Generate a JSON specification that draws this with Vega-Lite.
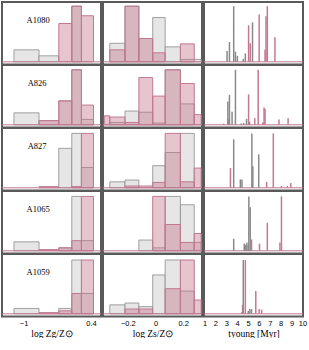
{
  "$schema": "https://vega.github.io/schema/vega-lite/v6.json",
  "padding": {"left": 0, "top": 1, "right": 4, "bottom": 0},
  "spacing": -3,
  "config": {
    "view": {"stroke": "#5a5a5a", "strokeWidth": 2},
    "axis": {"labelFont": "Liberation Sans", "labelFontSize": 7.5, "labelColor": "#000", "titleFont": "Liberation Serif", "titleFontSize": 9.5, "titleFontWeight": "normal", "titleColor": "#000", "labelPadding": 2, "titlePadding": 2, "ticks": false, "domain": false, "grid": false, "labelFlush": false, "labelOverlap": false},
    "facet": {"spacing": 0}
  },
  "datasets": {
    "zg": [
      {"c": "A1080", "s": "L", "x": -0.7, "h": 0.7},
      {"c": "A1080", "s": "G", "x": -1.2, "x2": -0.68, "h": 0.2},
      {"c": "A1080", "s": "G", "x": -0.68, "x2": -0.27, "h": 0.1},
      {"c": "A1080", "s": "G", "x": 0, "x2": 0.2, "h": 0.93},
      {"c": "A1080", "s": "P", "x": -0.27, "x2": 0, "h": 0.64},
      {"c": "A1080", "s": "P", "x": 0, "x2": 0.2, "h": 0.93},
      {"c": "A1080", "s": "P", "x": 0.2, "x2": 0.45, "h": 0.77},
      {"c": "A826", "s": "L", "x": -0.72, "h": 0.7},
      {"c": "A826", "s": "G", "x": -1.2, "x2": -0.68, "h": 0.2},
      {"c": "A826", "s": "G", "x": -0.68, "x2": -0.27, "h": 0.07},
      {"c": "A826", "s": "G", "x": -0.27, "x2": 0, "h": 0.4},
      {"c": "A826", "s": "G", "x": 0, "x2": 0.2, "h": 0.92},
      {"c": "A826", "s": "G", "x": 0.2, "x2": 0.45, "h": 0.09},
      {"c": "A826", "s": "P", "x": -0.68, "x2": -0.27, "h": 0.07},
      {"c": "A826", "s": "P", "x": -0.27, "x2": 0, "h": 0.4},
      {"c": "A826", "s": "P", "x": 0, "x2": 0.2, "h": 0.92},
      {"c": "A826", "s": "P", "x": 0.2, "x2": 0.45, "h": 0.33},
      {"c": "A827", "s": "L", "x": -0.72, "h": 0.7},
      {"c": "A827", "s": "G", "x": -0.27, "x2": 0, "h": 0.66},
      {"c": "A827", "s": "G", "x": 0, "x2": 0.2, "h": 0.91},
      {"c": "A827", "s": "G", "x": 0.2, "x2": 0.45, "h": 0.34},
      {"c": "A827", "s": "P", "x": -0.68, "x2": -0.27, "h": 0.02},
      {"c": "A827", "s": "P", "x": 0, "x2": 0.2, "h": 0.02},
      {"c": "A827", "s": "P", "x": 0.2, "x2": 0.45, "h": 0.91},
      {"c": "A1065", "s": "L", "x": -0.7, "h": 0.7},
      {"c": "A1065", "s": "G", "x": -1.2, "x2": -0.68, "h": 0.15},
      {"c": "A1065", "s": "G", "x": -0.27, "x2": 0, "h": 0.05},
      {"c": "A1065", "s": "G", "x": 0, "x2": 0.2, "h": 0.91},
      {"c": "A1065", "s": "G", "x": 0.2, "x2": 0.45, "h": 0.17},
      {"c": "A1065", "s": "P", "x": -0.68, "x2": -0.27, "h": 0.02},
      {"c": "A1065", "s": "P", "x": -0.27, "x2": 0, "h": 0.05},
      {"c": "A1065", "s": "P", "x": 0, "x2": 0.2, "h": 0.17},
      {"c": "A1065", "s": "P", "x": 0.2, "x2": 0.45, "h": 0.91},
      {"c": "A1059", "s": "L", "x": -0.7, "h": 0.7},
      {"c": "A1059", "s": "G", "x": -1.2, "x2": -0.68, "h": 0.09},
      {"c": "A1059", "s": "G", "x": -0.27, "x2": 0, "h": 0.09},
      {"c": "A1059", "s": "G", "x": 0, "x2": 0.2, "h": 0.9},
      {"c": "A1059", "s": "G", "x": 0.2, "x2": 0.45, "h": 0.34},
      {"c": "A1059", "s": "P", "x": -0.68, "x2": -0.27, "h": 0.02},
      {"c": "A1059", "s": "P", "x": -0.27, "x2": 0, "h": 0.05},
      {"c": "A1059", "s": "P", "x": 0, "x2": 0.2, "h": 0.34},
      {"c": "A1059", "s": "P", "x": 0.2, "x2": 0.45, "h": 0.9}
    ],
    "zs": [
      {"c": "A1080", "s": "L"},
      {"c": "A1080", "s": "G", "x": -0.33, "x2": -0.22, "h": 0.31},
      {"c": "A1080", "s": "G", "x": -0.22, "x2": -0.12, "h": 0.93},
      {"c": "A1080", "s": "G", "x": -0.12, "x2": -0.02, "h": 0.39},
      {"c": "A1080", "s": "G", "x": -0.02, "x2": 0.07, "h": 0.74},
      {"c": "A1080", "s": "G", "x": 0.07, "x2": 0.18, "h": 0.25},
      {"c": "A1080", "s": "G", "x": 0.18, "x2": 0.33, "h": 0.04},
      {"c": "A1080", "s": "P", "x": -0.33, "x2": -0.22, "h": 0.2},
      {"c": "A1080", "s": "P", "x": -0.22, "x2": -0.12, "h": 0.93},
      {"c": "A1080", "s": "P", "x": -0.12, "x2": -0.02, "h": 0.39},
      {"c": "A1080", "s": "P", "x": -0.02, "x2": 0.07, "h": 0.15},
      {"c": "A1080", "s": "P", "x": 0.18, "x2": 0.28, "h": 0.3},
      {"c": "A826", "s": "L"},
      {"c": "A826", "s": "G", "x": -0.33, "x2": -0.22, "h": 0.04},
      {"c": "A826", "s": "G", "x": -0.22, "x2": -0.12, "h": 0.23},
      {"c": "A826", "s": "G", "x": -0.12, "x2": -0.02, "h": 0.21},
      {"c": "A826", "s": "G", "x": -0.02, "x2": 0.07, "h": 0.03},
      {"c": "A826", "s": "G", "x": 0.07, "x2": 0.18, "h": 0.92},
      {"c": "A826", "s": "G", "x": 0.18, "x2": 0.28, "h": 0.35},
      {"c": "A826", "s": "P", "x": -0.37, "x2": -0.33, "h": 0.15},
      {"c": "A826", "s": "P", "x": -0.33, "x2": -0.22, "h": 0.13},
      {"c": "A826", "s": "P", "x": -0.22, "x2": -0.12, "h": 0.04},
      {"c": "A826", "s": "P", "x": -0.12, "x2": -0.02, "h": 0.79},
      {"c": "A826", "s": "P", "x": -0.02, "x2": 0.07, "h": 0.48},
      {"c": "A826", "s": "P", "x": 0.07, "x2": 0.18, "h": 0.92},
      {"c": "A826", "s": "P", "x": 0.18, "x2": 0.28, "h": 0.69},
      {"c": "A826", "s": "P", "x": 0.28, "x2": 0.33, "h": 0.17},
      {"c": "A827", "s": "L"},
      {"c": "A827", "s": "G", "x": -0.33, "x2": -0.22, "h": 0.1},
      {"c": "A827", "s": "G", "x": -0.22, "x2": -0.12, "h": 0.13},
      {"c": "A827", "s": "G", "x": -0.02, "x2": 0.07, "h": 0.37},
      {"c": "A827", "s": "G", "x": 0.07, "x2": 0.18, "h": 0.59},
      {"c": "A827", "s": "G", "x": 0.18, "x2": 0.28, "h": 0.91},
      {"c": "A827", "s": "P", "x": -0.22, "x2": -0.12, "h": 0.03},
      {"c": "A827", "s": "P", "x": -0.12, "x2": -0.02, "h": 0.03},
      {"c": "A827", "s": "P", "x": -0.02, "x2": 0.07, "h": 0.09},
      {"c": "A827", "s": "P", "x": 0.07, "x2": 0.18, "h": 0.91},
      {"c": "A827", "s": "P", "x": 0.18, "x2": 0.28, "h": 0.1},
      {"c": "A827", "s": "P", "x": 0.28, "x2": 0.33, "h": 0.33},
      {"c": "A1065", "s": "L"},
      {"c": "A1065", "s": "G", "x": -0.12, "x2": -0.02, "h": 0.18},
      {"c": "A1065", "s": "G", "x": -0.02, "x2": 0.07, "h": 0.05},
      {"c": "A1065", "s": "G", "x": 0.07, "x2": 0.18, "h": 0.91},
      {"c": "A1065", "s": "G", "x": 0.18, "x2": 0.28, "h": 0.77},
      {"c": "A1065", "s": "G", "x": 0.28, "x2": 0.33, "h": 0.14},
      {"c": "A1065", "s": "P", "x": -0.02, "x2": 0.07, "h": 0.91},
      {"c": "A1065", "s": "P", "x": 0.07, "x2": 0.18, "h": 0.44},
      {"c": "A1065", "s": "P", "x": 0.18, "x2": 0.28, "h": 0.14},
      {"c": "A1065", "s": "P", "x": 0.28, "x2": 0.33, "h": 0.29},
      {"c": "A1059", "s": "L"},
      {"c": "A1059", "s": "G", "x": -0.33, "x2": -0.22, "h": 0.15},
      {"c": "A1059", "s": "G", "x": -0.22, "x2": -0.12, "h": 0.18},
      {"c": "A1059", "s": "G", "x": -0.12, "x2": -0.02, "h": 0.12},
      {"c": "A1059", "s": "G", "x": -0.02, "x2": 0.07, "h": 0.65},
      {"c": "A1059", "s": "G", "x": 0.07, "x2": 0.18, "h": 0.9},
      {"c": "A1059", "s": "G", "x": 0.18, "x2": 0.28, "h": 0.38},
      {"c": "A1059", "s": "P", "x": -0.22, "x2": -0.12, "h": 0.08},
      {"c": "A1059", "s": "P", "x": -0.12, "x2": -0.02, "h": 0.08},
      {"c": "A1059", "s": "P", "x": 0.07, "x2": 0.18, "h": 0.42},
      {"c": "A1059", "s": "P", "x": 0.18, "x2": 0.28, "h": 0.9},
      {"c": "A1059", "s": "P", "x": 0.28, "x2": 0.33, "h": 0.23}
    ],
    "ty": [
      {"c": "A1080", "s": "L"},
      {"c": "A1080", "s": "G", "t": 3.07, "h": 0.18},
      {"c": "A1080", "s": "G", "t": 3.29, "h": 0.33},
      {"c": "A1080", "s": "G", "t": 3.68, "h": 0.93},
      {"c": "A1080", "s": "G", "t": 3.84, "h": 0.17},
      {"c": "A1080", "s": "G", "t": 4.02, "h": 0.1},
      {"c": "A1080", "s": "G", "t": 4.56, "h": 0.05},
      {"c": "A1080", "s": "G", "t": 4.75, "h": 0.14},
      {"c": "A1080", "s": "G", "t": 5.41, "h": 0.66},
      {"c": "A1080", "s": "P", "t": 5.05, "h": 0.61},
      {"c": "A1080", "s": "P", "t": 5.2, "h": 0.31},
      {"c": "A1080", "s": "P", "t": 6.02, "h": 0.79},
      {"c": "A1080", "s": "P", "t": 6.56, "h": 0.2},
      {"c": "A1080", "s": "P", "t": 6.65, "h": 0.76},
      {"c": "A1080", "s": "P", "t": 6.77, "h": 0.93},
      {"c": "A1080", "s": "P", "t": 7.47, "h": 0.41},
      {"c": "A826", "s": "L"},
      {"c": "A826", "s": "P", "t": 2.75, "h": 0.02},
      {"c": "A826", "s": "P", "t": 3.2, "h": 0.09},
      {"c": "A826", "s": "G", "t": 3.14, "h": 0.39},
      {"c": "A826", "s": "G", "t": 3.29, "h": 0.5},
      {"c": "A826", "s": "G", "t": 3.53, "h": 0.22},
      {"c": "A826", "s": "G", "t": 3.84, "h": 0.92},
      {"c": "A826", "s": "G", "t": 4.35, "h": 0.02},
      {"c": "A826", "s": "G", "t": 4.59, "h": 0.03},
      {"c": "A826", "s": "G", "t": 4.86, "h": 0.1},
      {"c": "A826", "s": "P", "t": 5.05, "h": 0.51},
      {"c": "A826", "s": "G", "t": 5.14, "h": 0.05},
      {"c": "A826", "s": "P", "t": 5.62, "h": 0.11},
      {"c": "A826", "s": "P", "t": 5.93, "h": 0.92},
      {"c": "A826", "s": "P", "t": 6.35, "h": 0.04},
      {"c": "A826", "s": "P", "t": 6.47, "h": 0.29},
      {"c": "A826", "s": "P", "t": 6.56, "h": 0.27},
      {"c": "A826", "s": "P", "t": 7.84, "h": 0.09},
      {"c": "A826", "s": "P", "t": 8.68, "h": 0.11},
      {"c": "A827", "s": "L"},
      {"c": "A827", "s": "P", "t": 3.38, "h": 0.33},
      {"c": "A827", "s": "G", "t": 3.68, "h": 0.81},
      {"c": "A827", "s": "G", "t": 4.29, "h": 0.14},
      {"c": "A827", "s": "G", "t": 4.44, "h": 0.14},
      {"c": "A827", "s": "G", "t": 5.35, "h": 0.91},
      {"c": "A827", "s": "G", "t": 5.44, "h": 0.36},
      {"c": "A827", "s": "G", "t": 5.98, "h": 0.56},
      {"c": "A827", "s": "P", "t": 6.71, "h": 0.1},
      {"c": "A827", "s": "P", "t": 7.32, "h": 0.91},
      {"c": "A827", "s": "P", "t": 8.07, "h": 0.03},
      {"c": "A827", "s": "P", "t": 8.62, "h": 0.03},
      {"c": "A827", "s": "P", "t": 8.93, "h": 0.08},
      {"c": "A1065", "s": "L"},
      {"c": "A1065", "s": "G", "t": 3.68, "h": 0.2},
      {"c": "A1065", "s": "G", "t": 4.65, "h": 0.12},
      {"c": "A1065", "s": "G", "t": 4.77, "h": 0.1},
      {"c": "A1065", "s": "G", "t": 4.89, "h": 0.14},
      {"c": "A1065", "s": "G", "t": 5.02, "h": 0.1},
      {"c": "A1065", "s": "G", "t": 5.07, "h": 0.91},
      {"c": "A1065", "s": "G", "t": 5.2, "h": 0.73},
      {"c": "A1065", "s": "P", "t": 5.32, "h": 0.19},
      {"c": "A1065", "s": "P", "t": 6.05, "h": 0.12},
      {"c": "A1065", "s": "P", "t": 6.77, "h": 0.47},
      {"c": "A1065", "s": "P", "t": 7.93, "h": 0.14},
      {"c": "A1065", "s": "P", "t": 8.07, "h": 0.91},
      {"c": "A1059", "s": "L"},
      {"c": "A1059", "s": "P", "t": 4.44, "h": 0.03},
      {"c": "A1059", "s": "P", "t": 4.5, "h": 0.15},
      {"c": "A1059", "s": "G", "t": 4.56, "h": 0.9},
      {"c": "A1059", "s": "P", "t": 4.75, "h": 0.9},
      {"c": "A1059", "s": "G", "t": 5.02, "h": 0.05},
      {"c": "A1059", "s": "G", "t": 5.16, "h": 0.08},
      {"c": "A1059", "s": "G", "t": 5.32, "h": 0.08},
      {"c": "A1059", "s": "P", "t": 5.71, "h": 0.38},
      {"c": "A1059", "s": "P", "t": 6.02, "h": 0.08},
      {"c": "A1059", "s": "P", "t": 6.25, "h": 0.07}
    ]
  },
  "hconcat": [
    {
      "data": {"name": "zg"},
      "bounds": "flush",
      "facet": {"row": {"field": "c", "type": "nominal", "sort": ["A1080", "A826", "A827", "A1065", "A1059"], "header": {"title": null, "labels": false}}},
      "spacing": {"row": 0},
      "spec": {
        "width": 99,
        "height": 62.5,
        "layer": [
          {
            "transform": [{"filter": "datum.s === 'G'"}],
            "mark": {"type": "rect", "fill": "#e6e6e6", "stroke": "#8c8c8c", "strokeWidth": 0.8},
            "encoding": {
              "x": {"field": "x", "type": "quantitative", "scale": {"domain": [-1.448, 0.606], "nice": false, "zero": false}, "axis": {"values": [-1, -0.5, 0, 0.4], "format": "~r", "title": "log Zg/Z⊙"}},
              "x2": {"field": "x2"},
              "y": {"field": "h", "type": "quantitative", "scale": {"domain": [-0.045, 1], "nice": false, "zero": false}, "axis": null},
              "y2": {"datum": 0}
            }
          },
          {
            "transform": [{"filter": "datum.s === 'P'"}],
            "mark": {"type": "rect", "fill": "#c46e88", "fillOpacity": 0.4, "stroke": "#c07890", "strokeWidth": 1},
            "encoding": {
              "x": {"field": "x", "type": "quantitative"},
              "x2": {"field": "x2"},
              "y": {"field": "h", "type": "quantitative"},
              "y2": {"datum": 0}
            }
          },
          {
            "transform": [{"filter": "datum.s === 'L'"}],
            "mark": {"type": "rule", "color": "#c07890", "strokeWidth": 1},
            "encoding": {"y": {"datum": 0}}
          },
          {
            "transform": [{"filter": "datum.s === 'L'"}],
            "mark": {"type": "text", "font": "Liberation Serif", "fontSize": 8.5, "color": "#000"},
            "encoding": {
              "x": {"field": "x", "type": "quantitative"},
              "y": {"field": "h", "type": "quantitative"},
              "text": {"field": "c"}
            }
          }
        ]
      }
    },
    {
      "data": {"name": "zs"},
      "bounds": "flush",
      "facet": {"row": {"field": "c", "type": "nominal", "sort": ["A1080", "A826", "A827", "A1065", "A1059"], "header": {"title": null, "labels": false}}},
      "spacing": {"row": 0},
      "spec": {
        "width": 99,
        "height": 62.5,
        "layer": [
          {
            "transform": [{"filter": "datum.s === 'G'"}],
            "mark": {"type": "rect", "fill": "#e6e6e6", "stroke": "#8c8c8c", "strokeWidth": 0.8},
            "encoding": {
              "x": {"field": "x", "type": "quantitative", "scale": {"domain": [-0.379, 0.336], "nice": false, "zero": false}, "axis": {"values": [-0.2, 0, 0.2], "format": "~r", "title": "log Zs/Z⊙"}},
              "x2": {"field": "x2"},
              "y": {"field": "h", "type": "quantitative", "scale": {"domain": [-0.045, 1], "nice": false, "zero": false}, "axis": null},
              "y2": {"datum": 0}
            }
          },
          {
            "transform": [{"filter": "datum.s === 'P'"}],
            "mark": {"type": "rect", "fill": "#c46e88", "fillOpacity": 0.4, "stroke": "#c07890", "strokeWidth": 1},
            "encoding": {
              "x": {"field": "x", "type": "quantitative"},
              "x2": {"field": "x2"},
              "y": {"field": "h", "type": "quantitative"},
              "y2": {"datum": 0}
            }
          },
          {
            "transform": [{"filter": "datum.s === 'L'"}],
            "mark": {"type": "rule", "color": "#c07890", "strokeWidth": 1},
            "encoding": {"y": {"datum": 0}}
          }
        ]
      }
    },
    {
      "data": {"name": "ty"},
      "bounds": "flush",
      "facet": {"row": {"field": "c", "type": "nominal", "sort": ["A1080", "A826", "A827", "A1065", "A1059"], "header": {"title": null, "labels": false}}},
      "spacing": {"row": 0},
      "spec": {
        "width": 99,
        "height": 62.5,
        "layer": [
          {
            "transform": [{"filter": "datum.s === 'L'"}],
            "mark": {"type": "rule", "color": "#c07890", "strokeWidth": 1},
            "encoding": {"y": {"datum": 0, "type": "quantitative", "scale": {"domain": [-0.045, 1], "nice": false, "zero": false}, "axis": null}}
          },
          {
            "transform": [{"filter": "datum.s !== 'L'"}],
            "mark": {"type": "rule", "strokeWidth": 1.5},
            "encoding": {
              "x": {"field": "t", "type": "quantitative", "scale": {"domain": [0.95, 10.05], "nice": false, "zero": false}, "axis": {"values": [1, 2, 3, 4, 5, 6, 7, 8, 9, 10], "format": "d", "title": "tyoung [Myr]"}},
              "y": {"field": "h", "type": "quantitative"},
              "y2": {"datum": 0},
              "color": {"field": "s", "type": "nominal", "scale": {"domain": ["G", "P"], "range": ["#8a8a8a", "#c77890"]}, "legend": null}
            }
          }
        ]
      }
    }
  ]
}
